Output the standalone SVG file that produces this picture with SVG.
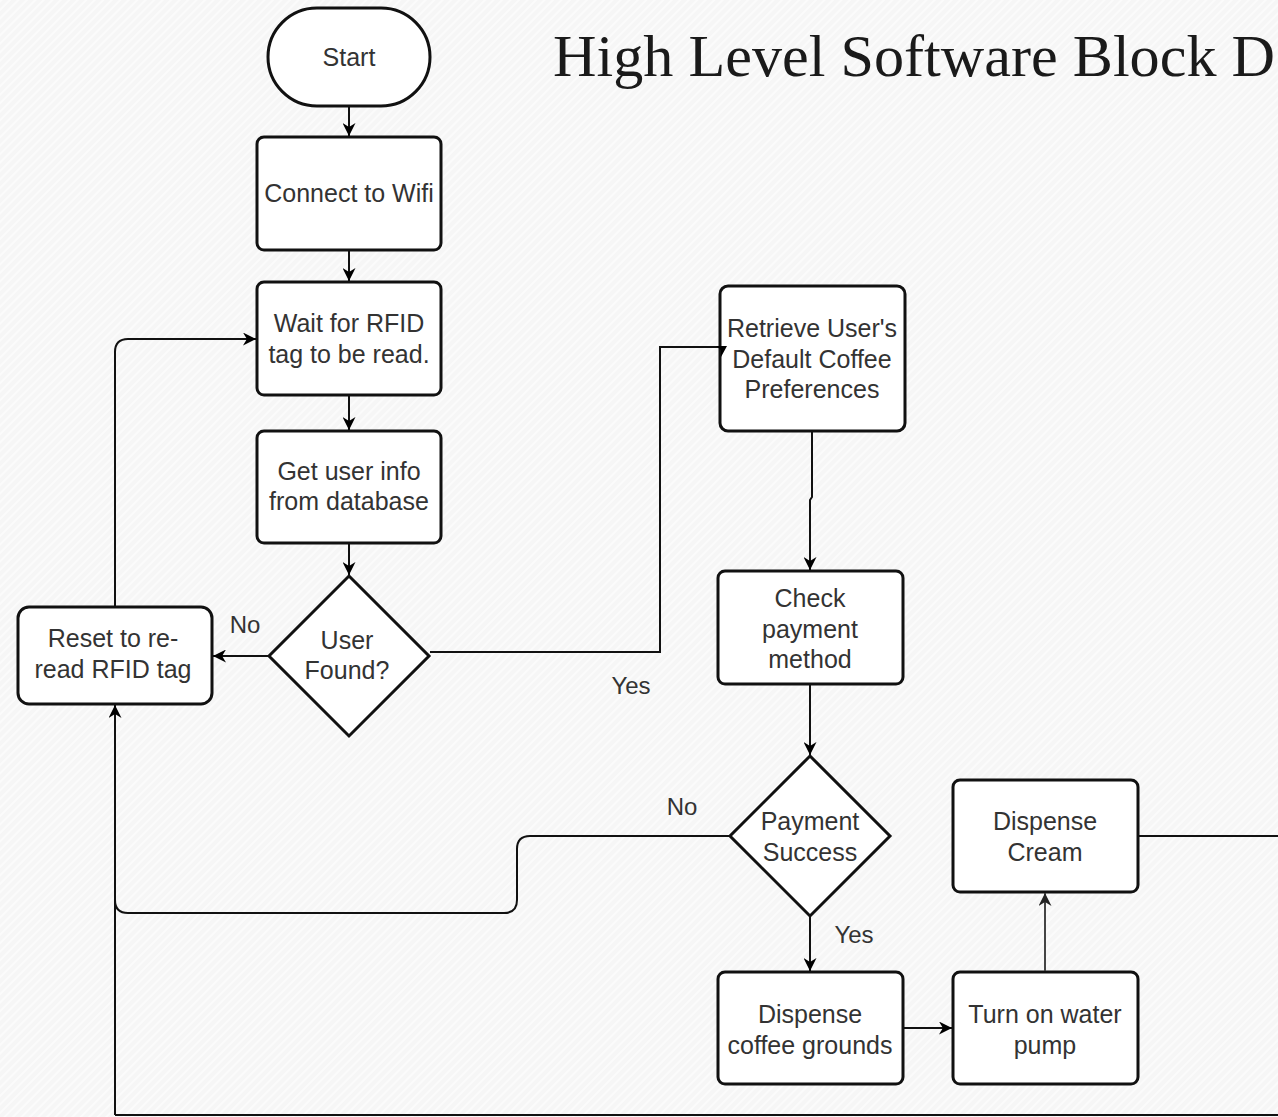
<svg xmlns="http://www.w3.org/2000/svg" width="1278" height="1117" viewBox="0 0 1278 1117">
<defs>
<pattern id="bg" width="6" height="6" patternUnits="userSpaceOnUse" patternTransform="rotate(45)">
<rect width="6" height="6" fill="#f6f6f6"/>
<rect width="2" height="6" fill="#fbfbfb"/>
</pattern>
<marker id="arr" viewBox="0 0 10 10" refX="10" refY="5" markerWidth="13" markerHeight="13" markerUnits="userSpaceOnUse" orient="auto">
<path d="M0,0 L10,5 L0,10 L3,5 Z" fill="#000"/>
</marker>
<marker id="arrg" viewBox="0 0 10 10" refX="10" refY="5" markerWidth="13" markerHeight="13" markerUnits="userSpaceOnUse" orient="auto">
<path d="M0,0 L10,5 L0,10 L3,5 Z" fill="#222"/>
</marker>
</defs>
<style>
.box{fill:#fff;stroke:#111;stroke-width:3}
.t{font-family:"Liberation Sans",Arial,sans-serif;font-size:25px;fill:#333;text-anchor:middle}
.lbl{font-family:"Liberation Sans",Arial,sans-serif;font-size:24px;fill:#333;text-anchor:middle}
.c{fill:none;stroke:#111;stroke-width:2}
.ca{fill:none;stroke:#111;stroke-width:2;marker-end:url(#arr)}
.title{font-family:"Liberation Serif","Times New Roman",serif;font-size:60px;fill:#1a1a1a}
</style>
<rect width="1278" height="1117" fill="url(#bg)"/>
<text class="title" x="553" y="76" textLength="722" lengthAdjust="spacingAndGlyphs">High Level Software Block D</text>

<g id="start">
<rect class="box" x="268" y="8" width="162" height="98" rx="49" ry="49"/>
<text class="t" x="349" y="66">Start</text>
</g>
<g id="connect-wifi">
<rect class="box" x="257" y="137" width="184" height="113" rx="7"/>
<text class="t" x="349" y="202">Connect to Wifi</text>
</g>
<g id="wait-rfid">
<rect class="box" x="257" y="282" width="184" height="113" rx="7"/>
<text class="t" x="349" y="332">Wait for RFID</text>
<text class="t" x="349" y="363">tag to be read.</text>
</g>
<g id="get-user-info">
<rect class="box" x="257" y="431" width="184" height="112" rx="7"/>
<text class="t" x="349" y="480">Get user info</text>
<text class="t" x="349" y="510">from database</text>
</g>
<g id="user-found">
<polygon class="box" points="349,576 429,656 349,736 269,656"/>
<text class="t" x="347" y="649">User</text>
<text class="t" x="347" y="679">Found?</text>
</g>
<g id="reset">
<rect class="box" x="18" y="607" width="194" height="97" rx="11"/>
<text class="t" x="113" y="647">Reset to re-</text>
<text class="t" x="113" y="678">read RFID tag</text>
</g>
<g id="retrieve">
<rect class="box" x="720" y="286" width="185" height="145" rx="8"/>
<text class="t" x="812" y="337">Retrieve User's</text>
<text class="t" x="812" y="368">Default Coffee</text>
<text class="t" x="812" y="398">Preferences</text>
</g>
<g id="check-payment">
<rect class="box" x="718" y="571" width="185" height="113" rx="7"/>
<text class="t" x="810" y="607">Check</text>
<text class="t" x="810" y="638">payment</text>
<text class="t" x="810" y="668">method</text>
</g>
<g id="payment-success">
<polygon class="box" points="810,756 890,836 810,916 730,836"/>
<text class="t" x="810" y="830">Payment</text>
<text class="t" x="810" y="861">Success</text>
</g>
<g id="dispense-grounds">
<rect class="box" x="718" y="972" width="185" height="112" rx="7"/>
<text class="t" x="810" y="1023">Dispense</text>
<text class="t" x="810" y="1054">coffee grounds</text>
</g>
<g id="water-pump">
<rect class="box" x="953" y="972" width="185" height="112" rx="7"/>
<text class="t" x="1045" y="1023">Turn on water</text>
<text class="t" x="1045" y="1054">pump</text>
</g>
<g id="dispense-cream">
<rect class="box" x="953" y="780" width="185" height="112" rx="7"/>
<text class="t" x="1045" y="830">Dispense</text>
<text class="t" x="1045" y="861">Cream</text>
</g>

<g id="connectors">
<path class="ca" d="M349,107 L349,136"/>
<path class="ca" d="M349,251 L349,281"/>
<path class="ca" d="M349,396 L349,430"/>
<path class="ca" d="M349,544 L349,575"/>
<path class="ca" d="M268,656 L213,656"/>
<path class="ca" d="M115,606 L115,352 Q115,339 128,339 L256,339"/>
<path class="c" d="M430,652 L660,652 L660,347 L719,347"/>
<path d="M716,346 L727,346 L721,357 L721,350 Z" fill="#000"/>
<path class="ca" d="M812,432 L812,497 L810,500 L810,570"/>
<path class="ca" d="M810,685 L810,755"/>
<path class="c" d="M729,836 L530,836 Q517,836 517,849 L517,900 Q517,913 504,913 L128,913 Q115,913 115,900"/>
<path class="ca" d="M115,1115 L115,705"/>
<path class="c" d="M115,1115 L1278,1115"/>
<path class="ca" d="M810,917 L810,971"/>
<path class="ca" d="M904,1028 L952,1028"/>
<path fill="none" stroke="#444" stroke-width="2" marker-end="url(#arrg)" d="M1045,971 L1045,893"/>
<path class="c" d="M1139,836 L1278,836"/>
</g>

<g id="labels">
<text class="lbl" x="245" y="633">No</text>
<text class="lbl" x="631" y="694">Yes</text>
<text class="lbl" x="682" y="815">No</text>
<text class="lbl" x="854" y="943">Yes</text>
</g>
</svg>
